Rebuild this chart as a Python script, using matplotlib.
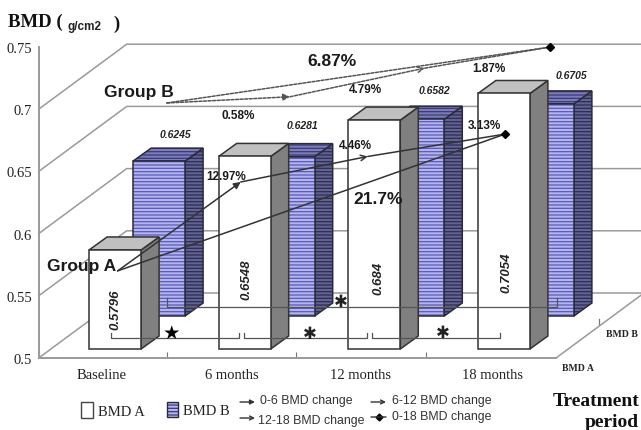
import matplotlib
matplotlib.use('Agg')
import matplotlib.pyplot as plt
from matplotlib.patches import Polygon, Rectangle
from matplotlib.transforms import Affine2D

# Data
categories = ['Baseline', '6 months', '12 months', '18 months']
bmd_a = [0.5796, 0.6548, 0.684, 0.7054]
bmd_b = [0.6245, 0.6281, 0.6582, 0.6705]
bmd_a_labels = ['0.5796', '0.6548', '0.684', '0.7054']
bmd_b_labels = ['0.6245', '0.6281', '0.6582', '0.6705']
y_ticks = [0.5, 0.55, 0.6, 0.65, 0.7, 0.75]
y_tick_labels = ['0.5', '0.55', '0.6', '0.65', '0.7', '0.75']
grid_levels = [0.5, 0.55, 0.6, 0.65, 0.7]

# trend lines
trend_a_x = [0.02, 0.97, 1.95, 3.01]
trend_a_y = [0.570, 0.6415, 0.662, 0.680]
trend_b_x = [0.40, 1.35, 2.39, 3.36]
trend_b_y = [0.705, 0.710, 0.733, 0.750]

W, H = 641, 431
PX_X = 129.6    # pixels per category
PX_Y = 1244.0   # pixels per BMD unit
X0 = 115.0      # pixel of category 0
Y0 = 359.0      # pixel of 0.5

fig = plt.figure(figsize=(W / 100, H / 100), dpi=100)
ax = fig.add_axes([0, 0, 1, 1])
ax.set_xlim(-X0 / PX_X, (W - X0) / PX_X)
ax.set_ylim(0.5 - (H - Y0) / PX_Y, 0.5 + Y0 / PX_Y)
ax.patch.set_visible(False)

# pixel transform for text and decorations
px = Affine2D().scale(1 / W, -1 / H).translate(0, 1) + fig.transFigure

plt.rcParams['hatch.linewidth'] = 0.9
SERIF = 'Liberation Serif'
SANS = 'Liberation Sans'
GREY = '#9a9a9a'

# axes
x_left = (38.7 - X0) / PX_X
x_right = (556 - X0) / PX_X
for s in ['top', 'right']:
    ax.spines[s].set_visible(False)
ax.spines['left'].set_position(('data', x_left))
ax.spines['left'].set_bounds(0.5, 0.75)
ax.spines['bottom'].set_position(('data', 0.5))
ax.spines['bottom'].set_bounds(x_left, x_right)
ax.spines['left'].set_color(GREY)
ax.spines['bottom'].set_color(GREY)
ax.spines['left'].set_linewidth(1.4)
ax.spines['bottom'].set_linewidth(1.4)
ax.set_yticks(y_ticks)
ax.set_yticklabels(y_tick_labels, fontfamily=SERIF, fontsize=10.5, color='#222222')
ax.tick_params(axis='y', length=0, pad=5)
ax.set_xticks([0.4, 1.4, 2.4])
ax.set_xticklabels([])
ax.tick_params(axis='x', direction='in', length=4, color='#777777')

# walls
wall_dx = 88 / PX_X
wall_dy = 65 / PX_Y
for v in grid_levels:
    ax.plot([x_left, x_left + wall_dx, 6], [v, v + wall_dy, v + wall_dy],
            color=GREY, lw=1.1, zorder=1)
ax.plot([x_right, x_right + wall_dx], [0.5, 0.5 + wall_dy], color=GREY, lw=1.1, zorder=1)

# bars
bar_w = 52 / PX_X
depth_x = 18 / PX_X
depth_y = 13 / PX_Y
lift_a = 9 / PX_Y
lift_b = 42 / PX_Y
shift_b = 44 / PX_X


def face(pts, color, stripe, z):
    if stripe:
        ax.add_patch(Polygon(pts, facecolor=color, edgecolor=stripe, hatch='-----', lw=0, zorder=z))
        ax.add_patch(Polygon(pts, fill=False, edgecolor='#2a2a3a', lw=1.1, zorder=z))
    else:
        ax.add_patch(Polygon(pts, facecolor=color, edgecolor='#333333', lw=1.1, zorder=z))


def box(x, value, lift, colors, stripes, z):
    y0 = 0.5 + lift
    y1 = value + lift
    x1 = x + bar_w
    face([(x1, y0), (x1 + depth_x, y0 + depth_y), (x1 + depth_x, y1 + depth_y), (x1, y1)], colors[1], stripes[1], z)
    face([(x, y1), (x1, y1), (x1 + depth_x, y1 + depth_y), (x + depth_x, y1 + depth_y)], colors[2], stripes[2], z)
    face([(x, y0), (x1, y0), (x1, y1), (x, y1)], colors[0], stripes[0], z)


for i, v in enumerate(bmd_b):
    box(i - 0.2 + shift_b, v, lift_b, ['#b4b4ee', '#63638f', '#7c7cb8'], ['#5a5ab8', '#2c2c58', '#3a3a78'], 3)
for i, v in enumerate(bmd_a):
    box(i - 0.2, v, lift_a, ['white', '#808080', '#c0c0c0'], [None, None, None], 4)

# brackets on the floor
for x0, x1 in [(111, 239), (244, 367), (372, 500)]:
    ax.plot([x0, x0, x1, x1], [334, 339, 339, 334], color='#555555', lw=0.9, transform=px, zorder=5)
ax.plot([167, 167, 557, 557], [299, 308, 308, 299], color='#555555', lw=0.9, transform=px, zorder=5)
ax.plot([599, 599], [320, 325], color='#777777', lw=0.9, transform=px, zorder=5)


# trend lines
def segment(x, y, i, j, style, ls, color):
    ax.annotate('', xy=(x[j], y[j]), xytext=(x[i], y[i]), zorder=6,
                arrowprops=dict(arrowstyle=style, color=color, lw=1.1, linestyle=ls,
                                shrinkA=0, shrinkB=0, mutation_scale=10))


for tx, ty, ls, color in [(trend_a_x, trend_a_y, '-', '#333333'),
                          (trend_b_x, trend_b_y, (0, (2, 1)), '#555555')]:
    segment(tx, ty, 0, 1, '-|>', ls, color)
    segment(tx, ty, 1, 2, '->', ls, color)
    segment(tx, ty, 2, 3, '-', ls, color)
    segment(tx, ty, 0, 3, '-', ls, color)
    ax.plot(tx[3], ty[3], marker='D', ms=4.5, color='black', zorder=7)


def label(x, y, s, **kw):
    kw.setdefault('ha', 'center')
    kw.setdefault('va', 'center')
    kw.setdefault('zorder', 8)
    ax.text(x, y, s, transform=px, **kw)


# bar value labels
for x, y, s in zip([175, 302, 434, 571], [135, 126, 91, 76], bmd_b_labels):
    label(x, y, s, fontfamily=SANS, style='italic', fontweight='bold', fontsize=7.5, color='#222222')
for x, y, s in zip([115, 246, 378, 506], [310, 280, 278, 273], bmd_a_labels):
    label(x, y, s, fontfamily=SANS, style='italic', fontweight='bold', fontsize=9.5, rotation=90, color='#222222')

# percent labels
bold = dict(fontfamily=SANS, fontweight='bold', color='#1a1a1a')
label(332, 62, '6.87%', fontsize=12.5, **bold)
label(378, 200, '21.7%', fontsize=12.5, **bold)
label(139, 93, 'Group B', fontsize=12.5, **bold)
label(82, 267, 'Group A', fontsize=12.5, **bold)
for x, y, s in [(238, 116, '0.58%'), (226, 177, '12.97%'), (355, 146, '4.46%'),
                (365, 90, '4.79%'), (489, 69, '1.87%'), (484, 126, '3.13%')]:
    label(x, y, s, fontsize=8.5, **bold)

# significance marks
label(171, 333, '★', fontfamily='DejaVu Sans', fontsize=14, color='black')
for x, y in [(310, 334), (341, 302), (443, 333)]:
    label(x, y, '✱', fontfamily='DejaVu Sans', fontsize=12, color='#222222')

# category labels
for x, s in zip([102, 232, 361, 493], categories):
    label(x, 376, s, fontfamily=SERIF, fontsize=10.5, color='#222222')
label(578, 369, 'BMD A', fontfamily=SERIF, fontweight='bold', fontsize=7, color='#222222')
label(622, 335, 'BMD B', fontfamily=SERIF, fontweight='bold', fontsize=7, color='#222222')

# titles
label(8, 22, 'BMD (', ha='left', fontfamily=SERIF, fontweight='bold', fontsize=13.5, color='#111111')
label(67, 27, 'g/cm2', ha='left', fontfamily=SANS, fontweight='bold', fontsize=8.5, color='#222222')
label(113, 24, ')', ha='left', fontfamily=SERIF, fontweight='bold', fontsize=13.5, color='#111111')
label(639, 402, 'Treatment', ha='right', fontfamily=SERIF, fontweight='bold', fontsize=14, color='#111111')
label(639, 423, 'period', ha='right', fontfamily=SERIF, fontweight='bold', fontsize=14, color='#111111')

# legend
ax.add_patch(Rectangle((81, 403), 12, 16, facecolor='white', edgecolor='#444444', lw=1, transform=px))
label(98, 413, 'BMD A', ha='left', fontfamily=SERIF, fontsize=10.5, color='#222222')
ax.add_patch(Rectangle((167, 403), 11, 15, facecolor='#b4b4ee', edgecolor='#3a3a78', hatch='-----', lw=0, transform=px))
ax.add_patch(Rectangle((167, 403), 11, 15, fill=False, edgecolor='#2a2a3a', lw=1, transform=px))
label(183, 412, 'BMD B', ha='left', fontfamily=SERIF, fontsize=10.5, color='#222222')
for x0, y, tx, ty, s, style in [(240, 403, 260, 401, '0-6 BMD change', '-|>'),
                                (240, 419, 258, 421, '12-18 BMD change', '->'),
                                (371, 403, 392, 401, '6-12 BMD change', '->'),
                                (371, 418, 392, 417, '0-18 BMD change', '-')]:
    ax.annotate('', xy=(x0 + 15, y), xytext=(x0, y), xycoords=px, textcoords=px,
                arrowprops=dict(arrowstyle=style, color='#333333', lw=1, shrinkA=0, shrinkB=0, mutation_scale=7))
    label(tx, ty, s, ha='left', fontfamily=SANS, fontsize=8.9, color='#333333')
ax.plot([379], [418], marker='D', ms=3.5, color='black', transform=px)

fig.savefig('out.png', dpi=100, facecolor='white')
